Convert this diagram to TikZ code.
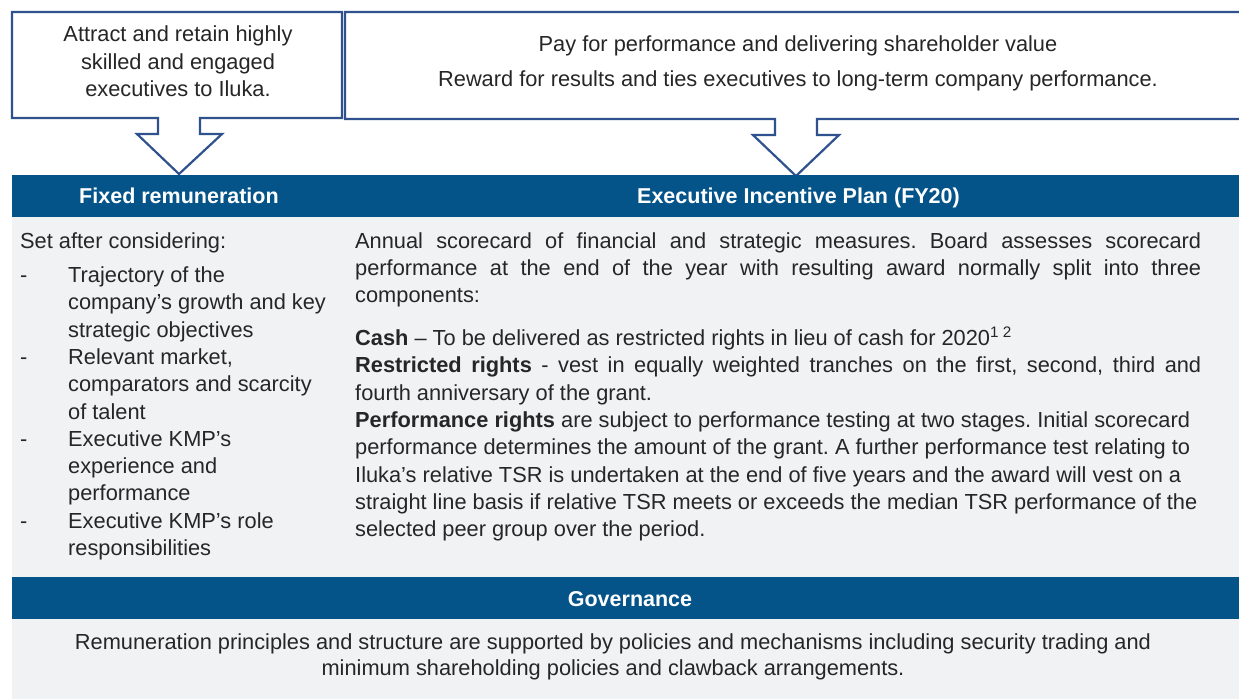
\documentclass[tikz,border=0pt]{standalone}
\usepackage{fontspec}
\setmainfont{Liberation Sans}
\definecolor{barblue}{RGB}{4,84,138}
\definecolor{boxblue}{RGB}{47,82,143}
\definecolor{panelgray}{RGB}{241,242,244}
\definecolor{txt}{RGB}{38,38,38}
\tikzset{
  body/.style={font=\fontsize{21.8}{27.3}\selectfont\frenchspacing, text=txt, inner sep=0pt},
  hdr/.style={font=\fontsize{21.5}{26}\selectfont\bfseries, text=white, inner sep=0pt, anchor=base},
  callout/.style={draw=boxblue, line width=2.2pt, fill=white, line join=miter},
  bar/.style={fill=barblue},
  panel/.style={fill=panelgray}
}
\newcommand\lineW[4]{\node[body,anchor=base west] (#1) at (#2,#3) {#4};}
\newcommand\lineC[4]{\node[body,anchor=base] (#1) at (#2,#3) {#4};}
\newcommand\jline[4]{\node[body,anchor=base west] (#1) at (#2,#3) {\makebox[846pt][s]{#4}};}
\begin{document}
\frenchspacing
\begin{tikzpicture}[x=1pt,y=-1pt]
\useasboundingbox (0,0) rectangle (1239,699);
\clip (0,0) rectangle (1239,699);
\fill[white] (0,0) rectangle (1239,699);

% callout boxes with block arrows
\draw[callout] (12,12) -- (342,12) -- (342,118) -- (200,118) -- (200,134) -- (222,134)
  -- (179,174) -- (137,134) -- (158,134) -- (158,118) -- (12,118) -- cycle;
\draw[callout] (345,12) -- (1252,12) -- (1252,119) -- (817,119) -- (817,135) -- (839,135)
  -- (796,176) -- (753,135) -- (775,135) -- (775,119) -- (345,119) -- cycle;

\lineC{a1}{178}{41}{Attract and retain highly}
\lineC{a2}{178}{69}{skilled and engaged}
\lineC{a3}{178}{96}{executives to Iluka.}
\lineC{p1}{798}{51}{Pay for performance and delivering shareholder value}
\lineC{p2}{798}{86}{Reward for results and ties executives to long-term company performance.}

% header bar
\fill[bar] (12,175) rectangle (1239,217);
\node[hdr] (hfixed) at (179,203.5) {Fixed remuneration};
\node[hdr] (heip) at (798.5,203.5) {Executive Incentive Plan (FY20)};

% gray panel
\fill[panel] (12,217) rectangle (1239,577);

% left column
\lineW{s0}{20}{248.5}{Set after considering:}
\lineW{d1}{20}{282.5}{-}
\lineW{l1}{68}{282.5}{Trajectory of the}
\lineW{l2}{68}{309.8}{company’s growth and key}
\lineW{l3}{68}{337.1}{strategic objectives}
\lineW{d2}{20}{364.4}{-}
\lineW{l4}{68}{364.4}{Relevant market,}
\lineW{l5}{68}{391.7}{comparators and scarcity}
\lineW{l6}{68}{419.0}{of talent}
\lineW{d3}{20}{446.3}{-}
\lineW{l7}{68}{446.3}{Executive KMP’s}
\lineW{l8}{68}{473.6}{experience and}
\lineW{l9}{68}{500.9}{performance}
\lineW{d4}{20}{528.2}{-}
\lineW{l10}{68}{528.2}{Executive KMP’s role}
\lineW{l11}{68}{555.5}{responsibilities}

% right column
\jline{r1}{355}{248.2}{Annual scorecard of financial and strategic measures. Board assesses scorecard}
\jline{r2}{355}{275.5}{performance at the end of the year with resulting award normally split into three}
\lineW{r3}{355}{302.8}{components:}
\lineW{r4}{355}{345.5}{\textbf{Cash} – To be delivered as restricted rights in lieu of cash for 2020\textsuperscript{1 2}}
\jline{r5}{355}{372.8}{\textbf{Restricted rights} - vest in equally weighted tranches on the first, second, third and}
\lineW{r6}{355}{400.1}{fourth anniversary of the grant.}
\lineW{r7}{355}{427.4}{\textbf{Performance rights} are subject to performance testing at two stages. Initial scorecard}
\lineW{r8}{355}{454.7}{performance determines the amount of the grant. A further performance test relating to}
\lineW{r9}{355}{482.0}{Iluka’s relative TSR is undertaken at the end of five years and the award will vest on a}
\lineW{r10}{355}{509.3}{straight line basis if relative TSR meets or exceeds the median TSR performance of the}
\lineW{r11}{355}{536.6}{selected peer group over the period.}

% governance
\fill[bar] (12,577) rectangle (1239,619);
\node[hdr] (hgov) at (630,606.5) {Governance};
\fill[panel] (12,619) rectangle (1239,699);
\lineC{g1}{613}{649.5}{Remuneration principles and structure are supported by policies and mechanisms including security trading and}
\lineC{g2}{613}{675.5}{minimum shareholding policies and clawback arrangements.}
\end{tikzpicture}
\end{document}
